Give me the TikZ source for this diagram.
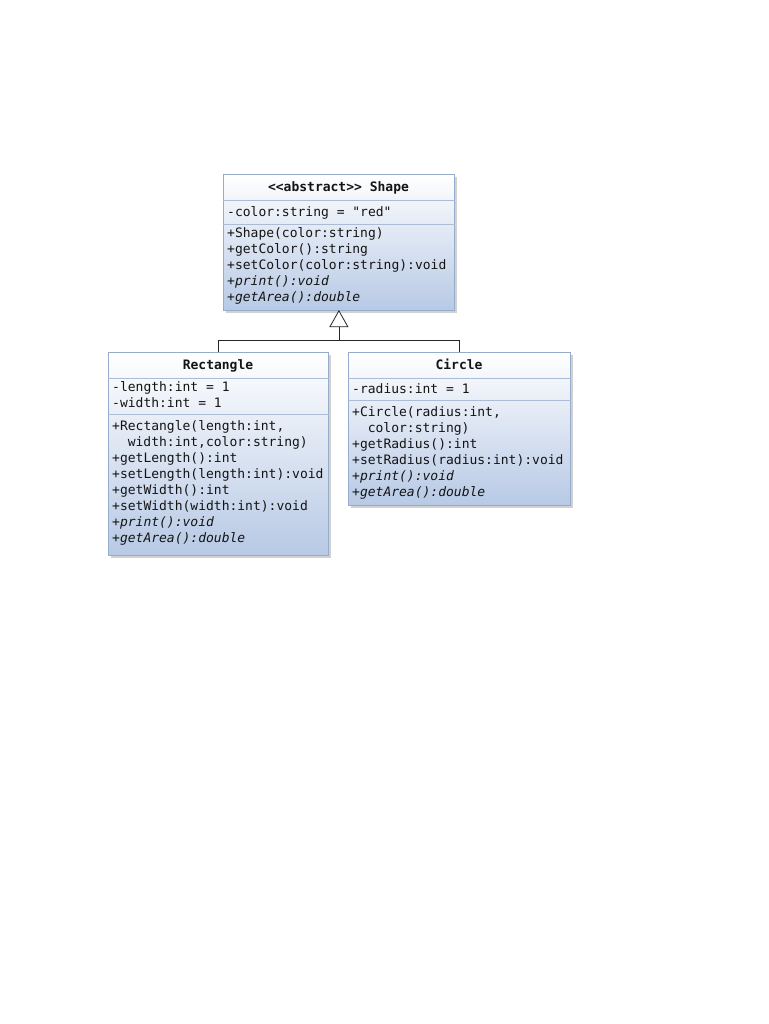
\documentclass[tikz,border=0pt]{standalone}
\usepackage{fontspec}
\setmonofont{DejaVu Sans Mono}
\usetikzlibrary{shadows}
\definecolor{boxborder}{RGB}{150,172,205}
\definecolor{boxbottom}{RGB}{183,201,229}
\definecolor{sepcol}{RGB}{170,188,214}
\definecolor{txtcol}{RGB}{20,20,20}
\begin{document}
\begin{tikzpicture}[x=1pt,y=-1pt,
  classbox/.style={rectangle, draw=boxborder, line width=0.8pt, top color=white, bottom color=boxbottom,
    inner sep=0pt, anchor=north west,
    drop shadow={shadow xshift=2.5pt, shadow yshift=-2.5pt, fill=black!40, opacity=0.45}},
  sepline/.style={draw=sepcol, line width=0.8pt},
  titletxt/.style={font=\fontsize{13}{16}\selectfont\ttfamily\bfseries, text=txtcol, inner sep=0pt, anchor=base},
  members/.style={font=\fontsize{13}{16}\selectfont\ttfamily, text=txtcol, inner sep=0pt, align=left, anchor=north west},
  conn/.style={draw=black!85, line width=0.8pt},
  gen/.style={draw=black!85, line width=0.8pt, fill=white, line join=miter}
]
\useasboundingbox (0,0) rectangle (768,1024);

% Shape
\node[classbox, minimum width=231pt, minimum height=136pt] (shape) at (223,174) {};
\draw[sepline] ([yshift=-26pt]shape.north west) -- ([yshift=-26pt]shape.north east);
\draw[sepline] ([yshift=-50pt]shape.north west) -- ([yshift=-50pt]shape.north east);
\node[titletxt] (shapetitle) at (338.5,191.5) {<{}<abstract>{}> Shape};
\node[members] (shapeattr) at (227,206.5) {-color:string = "red"};
\node[members] (shapeops) at (227,227) {+Shape(color:string)\\
+getColor():string\\
+setColor(color:string):void\\
\itshape +print():void\\
\itshape +getArea():double};

% Rectangle
\node[classbox, minimum width=220pt, minimum height=203pt] (rect) at (108,352) {};
\draw[sepline] ([yshift=-26pt]rect.north west) -- ([yshift=-26pt]rect.north east);
\draw[sepline] ([yshift=-62pt]rect.north west) -- ([yshift=-62pt]rect.north east);
\node[titletxt] (recttitle) at (218,369.5) {Rectangle};
\node[members] (rectattr) at (112,381) {-length:int = 1\\
-width:int = 1};
\node[members] (rectops) at (112,420) {+Rectangle(length:int,\\
\hspace*{15.6pt}width:int,color:string)\\
+getLength():int\\
+setLength(length:int):void\\
+getWidth():int\\
+setWidth(width:int):void\\
\itshape +print():void\\
\itshape +getArea():double};

% Circle
\node[classbox, minimum width=222pt, minimum height=153pt] (circ) at (348,352) {};
\draw[sepline] ([yshift=-26pt]circ.north west) -- ([yshift=-26pt]circ.north east);
\draw[sepline] ([yshift=-48pt]circ.north west) -- ([yshift=-48pt]circ.north east);
\node[titletxt] (circtitle) at (459,369.5) {Circle};
\node[members] (circattr) at (352,383) {-radius:int = 1};
\node[members] (circops) at (352,406) {+Circle(radius:int,\\
\hspace*{15.6pt}color:string)\\
+getRadius():int\\
+setRadius(radius:int):void\\
\itshape +print():void\\
\itshape +getArea():double};

% Generalization
\coordinate (tribase) at ([yshift=-16pt]shape.south);
\coordinate (junction) at ([yshift=-30pt]shape.south);
\draw[conn] (tribase) -- (junction);
\draw[conn] (rect.north) -- ++(0,-12) -| (circ.north);
\draw[gen] (shape.south) -- ++(-9,16) -- ++(18,0) -- cycle;
\end{tikzpicture}
\end{document}
